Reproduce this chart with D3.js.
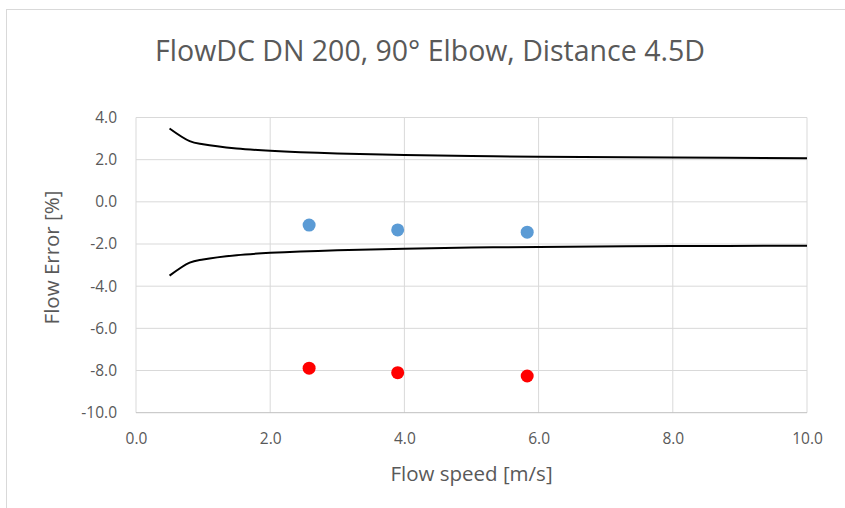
<!DOCTYPE html>
<html>
<head>
<meta charset="utf-8">
<script src="https://cdn.jsdelivr.net/npm/d3@7"></script>
<style>
  body { margin: 0; background: #fff; }
  text { font-family: "Open Sans", Lato, sans-serif; fill: #595959; }
</style>
</head>
<body>
<svg id="chart" width="845" height="508"></svg>
<script>
// measured points
const speedBlue = [2.58, 3.9, 5.83]
const errorBlue = [-1.1, -1.33, -1.44]
const speedRed = [2.58, 3.9, 5.83]
const errorRed = [-7.89, -8.1, -8.26]

// tolerance band
const limitSpeed = [0.5, 0.8, 1.0, 1.5, 2.0, 3.0, 4.0, 5.0, 6.0, 8.0, 10.0]
const limitUpper = [3.48, 2.88, 2.73, 2.53, 2.42, 2.29, 2.22, 2.17, 2.14, 2.1, 2.07]
const limitLower = [-3.5, -2.88, -2.73, -2.53, -2.42, -2.29, -2.22, -2.17, -2.14, -2.1, -2.08]

const xTicks = [0, 2, 4, 6, 8, 10]
const yTicks = [4, 2, 0, -2, -4, -6, -8, -10]

const svg = d3.select('#chart')
const margin = { left: 136, right: 845 - 807, top: 117.5, bottom: 508 - 412.7 }
const width = +svg.attr('width')
const height = +svg.attr('height')
const fmt = d => d3.format('.1f')(d).replace('−', '-')

// outer chart border
svg.append('rect')
  .attr('x', 6.5).attr('y', 9.5)
  .attr('width', 845).attr('height', 520)
  .attr('fill', 'none')
  .attr('stroke', '#d9d9d9')

const x = d3.scaleLinear().domain([0, 10]).range([margin.left, width - margin.right])
const y = d3.scaleLinear().domain([-10, 4]).range([height - margin.bottom, margin.top])

// grid
svg.append('g')
  .selectAll('line')
  .data(yTicks.filter(d => d !== -10))
  .enter()
  .append('line')
  .attr('x1', x(0)).attr('x2', x(10))
  .attr('y1', d => y(d)).attr('y2', d => y(d))
  .attr('stroke', '#d9d9d9').attr('stroke-width', 1)

svg.append('g')
  .selectAll('line')
  .data(xTicks)
  .enter()
  .append('line')
  .attr('x1', d => x(d)).attr('x2', d => x(d))
  .attr('y1', y(4)).attr('y2', y(-10))
  .attr('stroke', '#d9d9d9').attr('stroke-width', 1)

// x axis line
svg.append('line')
  .attr('x1', x(0)).attr('x2', x(10))
  .attr('y1', y(-10)).attr('y2', y(-10))
  .attr('stroke', '#bfbfbf').attr('stroke-width', 1)

// tick labels
const xAxis = svg.append('g')
  .attr('transform', 'translate(0,' + y(-10) + ')')
  .call(d3.axisBottom(x).tickValues(xTicks).tickSize(0).tickPadding(20).tickFormat(fmt))
xAxis.select('.domain').remove()
xAxis.selectAll('text').attr('font-size', 15.5).attr('fill', '#595959').style('font-family', '"Open Sans", sans-serif')

const yAxis = svg.append('g')
  .attr('transform', 'translate(' + x(0) + ',0)')
  .call(d3.axisLeft(y).tickValues(yTicks).tickSize(0).tickPadding(19).tickFormat(fmt))
yAxis.select('.domain').remove()
yAxis.selectAll('text').attr('font-size', 15.5).attr('fill', '#595959').style('font-family', '"Open Sans", sans-serif')

// band lines
const line = d3.line()
  .x(d => x(d[0]))
  .y(d => y(d[1]))
  .curve(d3.curveCatmullRom)

;[limitUpper, limitLower].forEach(vals => {
  svg.append('path')
    .datum(limitSpeed.map((s, i) => [s, vals[i]]))
    .attr('d', line)
    .attr('fill', 'none')
    .attr('stroke', '#000')
    .attr('stroke-width', 2)
})

// points
const dots = (xs, ys, color) => {
  svg.append('g')
    .selectAll('circle')
    .data(xs.map((s, i) => [s, ys[i]]))
    .enter()
    .append('circle')
    .attr('cx', d => x(d[0]))
    .attr('cy', d => y(d[1]))
    .attr('r', 6.5)
    .attr('fill', color)
}
dots(speedBlue, errorBlue, '#5b9bd5')
dots(speedRed, errorRed, '#ff0000')

// titles
svg.append('text')
  .attr('x', 430).attr('y', 61)
  .attr('text-anchor', 'middle')
  .attr('font-size', 28.5)
  .text('FlowDC DN 200, 90° Elbow, Distance 4.5D')

svg.append('text')
  .attr('x', (x(0) + x(10)) / 2).attr('y', 481)
  .attr('text-anchor', 'middle')
  .attr('font-size', 20.5)
  .text('Flow speed [m/s]')

svg.append('text')
  .attr('transform', 'translate(59,257.5) rotate(-90)')
  .attr('text-anchor', 'middle')
  .attr('font-size', 20.5)
  .text('Flow Error [%]')
</script>
</body>
</html>
